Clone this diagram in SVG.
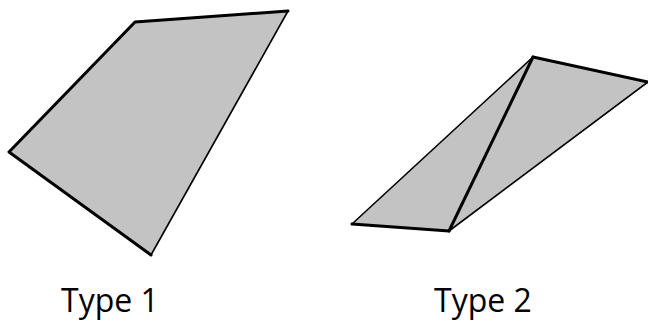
<svg xmlns="http://www.w3.org/2000/svg" width="648" height="322" viewBox="0 0 648 322">
<style>
.face{fill:#c3c3c3;stroke:none}
.thick{stroke:#000;stroke-width:3;fill:none;stroke-linecap:round;stroke-linejoin:round}
.thin{stroke:#000;stroke-width:1.6;fill:none;stroke-linecap:round}
.lbl{font-family:"Open Sans","Liberation Sans",sans-serif;font-size:32px;fill:#000}
</style>
<rect width="648" height="322" fill="#fff"/>
<g id="type1">
<polygon class="face" points="135,22 288,11 151,255 9,152"/>
<line class="thin" x1="288" y1="11" x2="151" y2="255"/>
<polyline class="thick" points="151,255 9,152 135,22 288,11"/>
</g>
<g id="type2">
<polygon class="face" points="533,57 648,82 449,231 352,224"/>
<line class="thin" x1="533" y1="57" x2="352" y2="224"/>
<line class="thin" x1="648" y1="82" x2="449" y2="231"/>
<line class="thick" x1="533" y1="57" x2="648" y2="82"/>
<line class="thick" x1="533" y1="57" x2="449" y2="231"/>
<line class="thick" x1="352" y1="224" x2="449" y2="231"/>
</g>
<text id="label1" class="lbl" x="61" y="312">Type 1</text>
<text id="label2" class="lbl" x="434" y="312">Type 2</text>
</svg>
